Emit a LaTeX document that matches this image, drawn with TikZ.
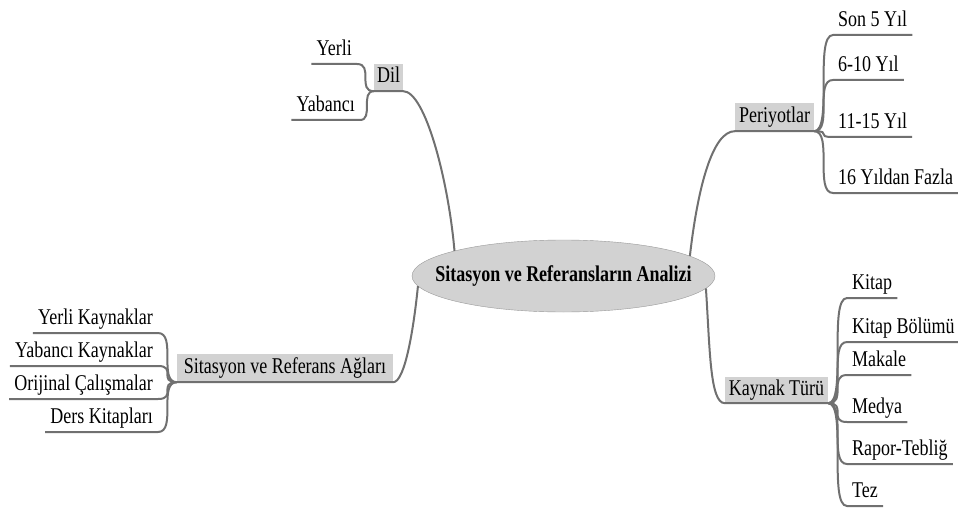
\documentclass[tikz,border=0pt]{standalone}
\usepackage{fontspec}
\setmainfont{Liberation Serif}[FakeStretch=0.8]
\usepackage{tikz}
\usetikzlibrary{shapes}
\definecolor{linegray}{RGB}{112,112,112}
\definecolor{boxgray}{RGB}{210,210,210}

\begin{document}
\begin{tikzpicture}[x=1pt,y=-1pt,
  every node/.style={font=\fontsize{22.5}{26}\selectfont},
  topic/.style={ellipse,draw=gray!80,fill=boxgray,inner sep=0pt,minimum width=303pt,minimum height=72pt,
    font=\fontsize{22.5}{26}\selectfont\bfseries},
  sub/.style={fill=boxgray,inner sep=0pt,text height=16pt,text depth=5pt},
  leaf/.style={inner xsep=5pt,inner ysep=3.5pt,text height=16pt,text depth=5pt},
  branch/.style={draw=linegray,line width=2pt},
  sbend/.style={to path={.. controls (\tikztostart -| \tikztotarget) and (\tikztostart |- \tikztotarget) .. (\tikztotarget) \tikztonodes}}]
\useasboundingbox (0,0) rectangle (958,508);
%\node at (0,0) {};
\node[topic] (analiz) at (563.5,276) {\makebox[0pt]{Sitasyon ve Referansların Analizi}};
\node[sub,minimum width=29pt,minimum height=27pt] (dil) at (388.5,77.5) {Dil};
\node[sub,minimum width=79pt,minimum height=28pt] (periyot) at (774.5,117) {Periyotlar};
\node[sub,minimum width=216pt,minimum height=28pt] (ag) at (285,368) {Sitasyon ve Referans Ağları};
\node[sub,minimum width=103pt,minimum height=26pt] (kaynak) at (776.5,390) {Kaynak Türü};
\node[leaf,anchor=south east] (yerli) at (357,64) {Yerli};
\node[leaf,anchor=south east] (yabanci) at (360,120) {Yabancı};
\node[leaf,anchor=south west] (son5) at (833,35) {Son 5 Yıl};
\node[leaf,anchor=south west] (y610) at (833,80) {6-10 Yıl};
\node[leaf,anchor=south west] (y1115) at (833,137) {11-15 Yıl};
\node[leaf,anchor=south west] (y16) at (833,193) {16 Yıldan Fazla};
\node[leaf,anchor=south east] (yerlik) at (158,333) {Yerli Kaynaklar};
\node[leaf,anchor=south east] (yabancik) at (158,366) {Yabancı Kaynaklar};
\node[leaf,anchor=south east] (orijinal) at (158,399) {Orijinal Çalışmalar};
\node[leaf,anchor=south east] (ders) at (158,432) {Ders Kitapları};
\node[leaf,anchor=south west] (kitap) at (847,298) {Kitap};
\node[leaf,anchor=south west] (bolum) at (847,342) {Kitap Bölümü};
\node[leaf,anchor=south west] (makale) at (847,375) {Makale};
\node[leaf,anchor=south west] (medya) at (847,422) {Medya};
\node[leaf,anchor=south west] (rapor) at (847,464) {Rapor-Tebliğ};
\node[leaf,anchor=south west] (tez) at (847,506) {Tez};
\draw[branch] (dil.south west) -- (dil.south east) .. controls +(22,0) and +(-6,-70) .. (analiz.167);
\draw[branch] (periyot.south east) -- (periyot.south west) .. controls +(-22,0) and +(8,-70) .. (analiz.9);
\draw[branch] (ag.south west) -- (ag.south east) .. controls +(12,0) and +(-4,40) .. (analiz.184);
\draw[branch] (kaynak.south east) -- (kaynak.south west) .. controls +(-15,0) and +(4,60) .. (analiz.355);
\draw[branch] (dil.south west) to[sbend] (yerli.south east) -- (yerli.south west);
\draw[branch] (dil.south west) to[sbend] (yabanci.south east) -- (yabanci.south west);
\draw[branch] (periyot.south east) to[sbend] (son5.south west) -- (son5.south east);
\draw[branch] (periyot.south east) to[sbend] (y610.south west) -- (y610.south east);
\draw[branch] (periyot.south east) to[sbend] (y1115.south west) -- (y1115.south east);
\draw[branch] (periyot.south east) to[sbend] (y16.south west) -- (y16.south east);
\draw[branch] (ag.south west) to[sbend] (yerlik.south east) -- (yerlik.south west);
\draw[branch] (ag.south west) to[sbend] (yabancik.south east) -- (yabancik.south west);
\draw[branch] (ag.south west) to[sbend] (orijinal.south east) -- (orijinal.south west);
\draw[branch] (ag.south west) to[sbend] (ders.south east) -- (ders.south west);
\draw[branch] (kaynak.south east) to[sbend] (kitap.south west) -- (kitap.south east);
\draw[branch] (kaynak.south east) to[sbend] (bolum.south west) -- (bolum.south east);
\draw[branch] (kaynak.south east) to[sbend] (makale.south west) -- (makale.south east);
\draw[branch] (kaynak.south east) to[sbend] (medya.south west) -- (medya.south east);
\draw[branch] (kaynak.south east) to[sbend] (rapor.south west) -- (rapor.south east);
\draw[branch] (kaynak.south east) to[sbend] (tez.south west) -- (tez.south east);
\end{tikzpicture}
\end{document}
